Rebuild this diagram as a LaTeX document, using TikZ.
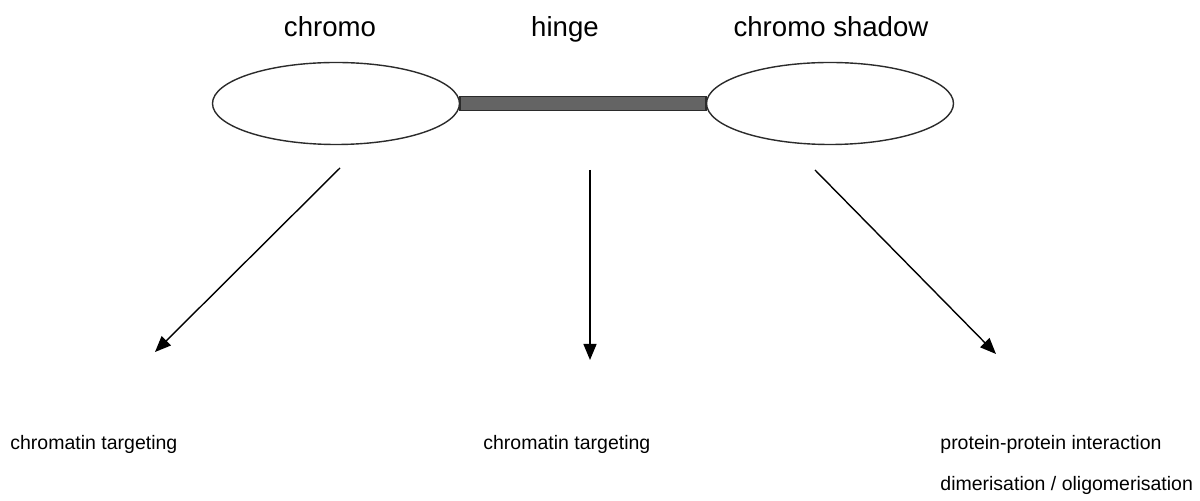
\documentclass[tikz,border=0pt]{standalone}
\usepackage{fontspec}
\setmainfont{Liberation Sans}
\usetikzlibrary{shapes.geometric,arrows.meta,positioning,fit}
\definecolor{bardark}{HTML}{646464}
\definecolor{barlight}{HTML}{8E8E8E}
\definecolor{inkline}{HTML}{2B2B2B}
\tikzset{
  domainshape/.style={ellipse, draw=inkline, line width=0.7pt, fill=white,
    minimum width=123.5pt, minimum height=41pt, inner sep=0pt},
  nametext/.style={font=\fontsize{13.8}{16}\selectfont, inner sep=0pt, anchor=base},
  roletext/.style={font=\fontsize{9.75}{12}\selectfont, inner sep=0pt, anchor=base west},
  pointer/.style={line width=0.7pt, draw=black,
    -{Triangle[length=8pt,width=6.5pt]}},
}
\begin{document}
\begin{tikzpicture}[x=0.5pt,y=-0.5pt]
\useasboundingbox (0,0) rectangle (1200,501);

% the two globular domains
\node[domainshape] (chromo) at (336,103.5) {};
\node[domainshape] (shadow) at (830,103.5) {};

% the hinge linker between them
\path (chromo.east) ++(0,-7) coordinate (hingeTL);
\path (shadow.west) ++(0,7) coordinate (hingeBR);
\shade[top color=bardark, middle color=barlight, bottom color=bardark]
  (hingeTL) rectangle (hingeBR);
\draw[draw=inkline, line width=0.9pt] (hingeTL) rectangle (hingeBR);
\node[inner sep=0pt, fit=(hingeTL)(hingeBR)] (hinge) {};

% domain names
\node[nametext] (tchromo) at (330,37) {chromo};
\node[nametext] (thinge)  at (565,37) {hinge};
\node[nametext] (tshadow) at (831,37) {chromo shadow};

% arrow start and end points
\coordinate (a1s) at (340,168);
\coordinate (a1e) at (155,352);
\coordinate (a2s) at (590,170);
\coordinate (a2e) at (590,360);
\coordinate (a3s) at (815,170);
\coordinate (a3e) at (996,354);

\draw[pointer] (a1s) -- (a1e);
\draw[pointer] (a2s) -- (a2e);
\draw[pointer] (a3s) -- (a3e);

% functions of each region
\node[roletext] (f1) at (10,450) {chromatin targeting};
\node[roletext] (f2) at (483,450) {chromatin targeting};
\node[roletext] (f3) at (940,450) {protein-protein interaction};
\node[roletext] (f4) at (940,491) {dimerisation / oligomerisation};
\end{tikzpicture}
\end{document}
